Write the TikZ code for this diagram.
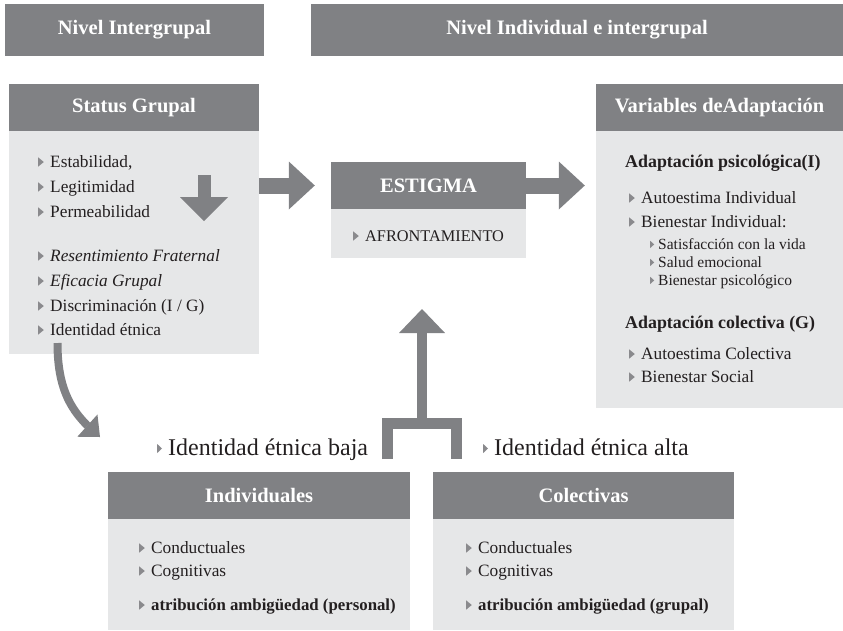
\documentclass[tikz,border=0pt]{standalone}
\usepackage{fontspec}
\setmainfont{Liberation Serif}
\usetikzlibrary{arrows.meta,bending}

\definecolor{hdrgray}{HTML}{808184}
\definecolor{bodygray}{HTML}{E6E7E8}
\definecolor{inkdark}{HTML}{231F20}
\definecolor{bulgray}{HTML}{8A8A8D}

% font sizes (1pt = 1 unit of the drawing)
\newcommand\hdrfont{\fontsize{20.5}{24}\selectfont\bfseries}
\newcommand\bodyfont{\fontsize{17.3}{20}\selectfont}
\newcommand\subhfont{\fontsize{17.9}{21}\selectfont\bfseries}
\newcommand\smallfont{\fontsize{15.5}{18}\selectfont}
\newcommand\labelfont{\fontsize{24}{28}\selectfont}
\newcommand\capsfont{\fontsize{16.3}{19}\selectfont}
\newcommand\attrfont{\fontsize{16.8}{19}\selectfont\bfseries}

% triangular list markers
\newcommand\bulmark{\tikz[baseline=0pt]\fill[bulgray](0pt,0.4pt)--(5.6pt,5pt)--(0pt,9.6pt)--cycle;\hspace{6.4pt}}
\newcommand\bulsub{\tikz[baseline=0pt]\fill[bulgray](0pt,1pt)--(4pt,4.6pt)--(0pt,8.2pt)--cycle;\hspace{4pt}}
\newcommand\bullab{\tikz[baseline=0pt]\fill[bulgray](0pt,2pt)--(4.8pt,6.5pt)--(0pt,11pt)--cycle;\hspace{6.2pt}}

\tikzset{
  hdr/.style={fill=hdrgray, text=white, font=\hdrfont, inner sep=0pt, minimum height=47pt},
  panel/.style={fill=bodygray, inner sep=0pt},
  txt/.style={anchor=base west, inner sep=0pt, text=inkdark, font=\bodyfont},
  blockarrow/.style={draw=hdrgray, line cap=butt, line join=miter},
}

\begin{document}
\begin{tikzpicture}[x=1pt, y=-1pt]
\useasboundingbox (0,0) rectangle (843,630);

% level bars
\node[hdr, minimum width=259pt, minimum height=52pt] (lvlinter) at (134.5,30) {Nivel Intergrupal};
\node[hdr, minimum width=532pt, minimum height=52pt] (lvlindiv) at (577,30) {Nivel Individual e intergrupal};

% panels
\node[panel, minimum width=250pt, minimum height=223pt] (statusbody) at (134,242.5) {};
\node[hdr, minimum width=250pt] (statushead) at (134,107.5) {Status Grupal};

\node[panel, minimum width=195pt, minimum height=49pt] (estigmabody) at (428.5,233.5) {};
\node[hdr, minimum width=195pt] (estigmahead) at (428.5,185.5) {ESTIGMA};

\node[panel, minimum width=247pt, minimum height=277pt] (varbody) at (719.5,269.5) {};
\node[hdr, minimum width=247pt] (varhead) at (719.5,107.5) {Variables deAdaptación};

\node[panel, minimum width=302pt, minimum height=111pt] (indbody) at (259,574.5) {};
\node[hdr, minimum width=302pt] (indhead) at (259,495.5) {Individuales};

\node[panel, minimum width=301pt, minimum height=111pt] (colbody) at (583.5,574.5) {};
\node[hdr, minimum width=301pt] (colhead) at (583.5,495.5) {Colectivas};

% block arrows between panels
\draw[blockarrow, line width=16pt, -{Triangle[length=26pt,width=48pt,line width=0pt,fill=hdrgray]}, shorten >=16pt]
  (statusbody.east |- estigmahead.west) -- (estigmahead.west);
\draw[blockarrow, line width=16pt, -{Triangle[length=26pt,width=48pt,line width=0pt,fill=hdrgray]}, shorten >=11pt]
  (estigmahead.east) -- (varbody.west |- estigmahead.east);

% arrow inside the status panel
\coordinate (dnS) at (204,175);
\coordinate (dnE) at (204,221);
\draw[blockarrow, line width=13pt, -{Triangle[length=24pt,width=48pt,line width=0pt,fill=hdrgray]}] (dnS) -- (dnE);

% curved arrow towards the coping strategies
\coordinate (crvS) at (57.5,343);
\coordinate (crvE) at (100,437);
\draw[blockarrow, line width=8pt, -{Triangle[length=17pt,width=30pt,line width=0pt,fill=hdrgray]}]
  (crvS) .. controls (57.5,395) and (75,416) .. (crvE);

% fork arrow up towards the stigma panel
\coordinate (forkL) at (387.5,459);
\coordinate (forkR) at (456.5,459);
\coordinate (forkJ) at (422,423.5);
\coordinate (forkT) at (422,309);
\draw[blockarrow, line width=11pt] (forkL) -- (forkL |- forkJ) -- (forkR |- forkJ) -- (forkR);
\draw[blockarrow, line width=10pt, -{Triangle[length=24pt,width=46pt,line width=0pt,fill=hdrgray]}] (forkJ) -- (forkT);

% status panel items
\node[txt] (s1) at (38,167) {\bulmark Estabilidad,};
\node[txt] (s2) at (38,192) {\bulmark Legitimidad};
\node[txt] (s3) at (38,217) {\bulmark Permeabilidad};
\node[txt] (s4) at (38,261) {\bulmark\textit{Resentimiento Fraternal}};
\node[txt] (s5) at (38,286) {\bulmark\textit{Eficacia Grupal}};
\node[txt] (s6) at (38,311) {\bulmark Discriminación (I / G)};
\node[txt] (s7) at (38,335) {\bulmark Identidad étnica};

% stigma panel item
\node[txt, font=\capsfont] (afr) at (353,241) {\bulmark AFRONTAMIENTO};

% adaptation panel items
\node[txt, font=\subhfont] (v0) at (625,167) {Adaptación psicológica(I)};
\node[txt] (v1) at (629,203) {\bulmark Autoestima Individual};
\node[txt] (v2) at (629,227) {\bulmark Bienestar Individual:};
\node[txt, font=\smallfont] (v3) at (650,249) {\bulsub Satisfacción con la vida};
\node[txt, font=\smallfont] (v4) at (650,267) {\bulsub Salud emocional};
\node[txt, font=\smallfont] (v5) at (650,285) {\bulsub Bienestar psicológico};
\node[txt, font=\subhfont] (v6) at (625,328) {Adaptación colectiva (G)};
\node[txt] (v7) at (629,359) {\bulmark Autoestima Colectiva};
\node[txt] (v8) at (629,382) {\bulmark Bienestar Social};

% ethnic identity labels
\node[txt, font=\labelfont] (lowid) at (157,455) {\bullab Identidad étnica baja};
\node[txt, font=\labelfont] (highid) at (483,455) {\bullab Identidad étnica alta};

% individual strategies
\node[txt] (i1) at (139,553) {\bulmark Conductuales};
\node[txt] (i2) at (139,576) {\bulmark Cognitivas};
\node[txt, font=\attrfont] (i3) at (139,610) {\bulmark atribución ambigüedad (personal)};

% collective strategies
\node[txt] (c1) at (466,553) {\bulmark Conductuales};
\node[txt] (c2) at (466,576) {\bulmark Cognitivas};
\node[txt, font=\attrfont] (c3) at (466,610) {\bulmark atribución ambigüedad (grupal)};

\end{tikzpicture}
\end{document}
